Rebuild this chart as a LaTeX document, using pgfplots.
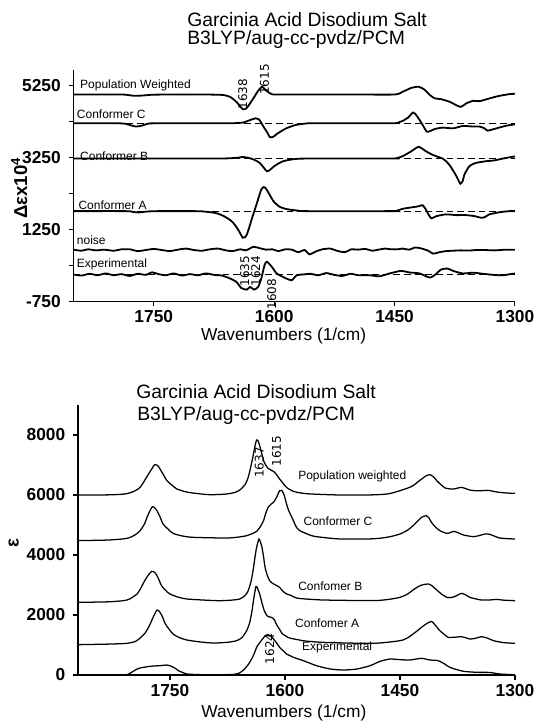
\documentclass[border=0pt]{standalone}
\usepackage{fontspec}
\setmainfont{Liberation Sans}
\newfontfamily\annfont{DejaVu Sans}
\usepackage{pgfplots}
\pgfplotsset{compat=1.18}
\pgfplotsset{
  base/.style={
    scale only axis,
    x dir=reverse,
    xmin=1300,
    axis x line=bottom, axis y line=left,
    axis line style={-, line width=0.8pt, black},
    tick align=outside, major tick length=3.5pt,
    every tick/.style={line width=0.8pt, black},
    tick label style={font=\fontsize{13}{15}\selectfont\bfseries},
    yticklabel style={xshift=-2.5pt},
    /pgf/number format/assume math mode=true,
    xtick={1750,1600,1450,1300},
    xticklabels={1750,1600,1450,1300},
    label style={font=\fontsize{13}{15}\selectfont},
    clip=false,
  },
}
\tikzset{
  cv/.style={black, line width=1.35pt, smooth, tension=0.4},
  cvb/.style={black, line width=0.95pt, smooth, tension=0.4},
  dl/.style={black, line width=0.9pt, dash pattern=on 5pt off 3pt},
  lab/.style={anchor=west, font=\fontsize{9}{11}\selectfont, inner sep=0pt},
  ann/.style={rotate=90, font=\annfont\fontsize{9}{11}\selectfont, inner sep=0pt},
  ttl/.style={anchor=base west, inner sep=0pt, font=\fontsize{14.5}{16}\selectfont},
}
\begin{document}
\begin{tikzpicture}
\useasboundingbox (0,0) rectangle (402.75pt,544.5pt);
% ---------------- top panel ----------------
\begin{axis}[base, at={(55.125pt,318.375pt)}, anchor=south west,
  width=331.1pt, height=173.6pt, xmax=1850, ymin=-750, ymax=5680,
  ytick={-750,250,1250,2250,3250,4250,5250},
  yticklabels={-750,,1250,,3250,,5250},
  xlabel={Wavenumbers (1/cm)},
  ylabel={\fontsize{14}{16}\selectfont\bfseries Δεx10\textsuperscript{4}},
  xlabel style={at={(axis description cs:0.476,-0.148)}, anchor=center},
  ylabel style={at={(axis description cs:-0.123,0.49)}, anchor=center},
]
\addplot[dl] coordinates {(1850,4200) (1300,4200)};
\addplot[dl] coordinates {(1850,3220) (1300,3220)};
\addplot[dl] coordinates {(1850,1760) (1300,1760)};
\addplot[dl] coordinates {(1850,0) (1300,0)};
% Population weighted
\addplot[cv] coordinates {(1850,5000)(1800,5000)(1785,4995)(1775,4965)(1765,4970)(1750,4995)(1720,5000)(1690,5000)(1672,4995)(1663,4985)(1655,4935)(1647,4795)(1639,4590)(1634,4630)(1626,4890)(1620,5100)(1615,5215)(1610,5110)(1603,5010)(1593,5000)(1500,5000)(1450,5000)(1440,5075)(1429,5185)(1420,5215)(1413,5140)(1406,4985)(1400,4895)(1392,4870)(1381,4795)(1368,4655)(1361,4750)(1352,4825)(1344,4815)(1332,4890)(1321,4955)(1307,5010)(1300,5020)};
% Conformer C
\addplot[cv] coordinates {(1850,4200)(1795,4200)(1785,4185)(1778,4140)(1772,4110)(1765,4135)(1757,4190)(1745,4200)(1660,4200)(1645,4210)(1638,4225)(1630,4290)(1623,4340)(1619,4310)(1616,4210)(1612,4060)(1609,3960)(1605,3810)(1600,3840)(1597,3900)(1589,4010)(1585,4060)(1578,4120)(1572,4160)(1560,4195)(1550,4200)(1455,4200)(1445,4225)(1440,4265)(1433,4360)(1427,4500)(1423,4430)(1419,4300)(1415,4155)(1410,3970)(1406,3980)(1400,4040)(1390,4080)(1377,4060)(1365,4125)(1352,4110)(1344,4110)(1338,4060)(1334,3995)(1328,4030)(1323,4060)(1315,4110)(1307,4150)(1300,4170)};
% Conformer B
\addplot[cv] coordinates {(1850,3220)(1700,3220)(1660,3225)(1645,3245)(1639,3265)(1632,3240)(1625,3190)(1618,3100)(1613,2970)(1609,2865)(1605,2910)(1601,2990)(1595,3080)(1589,3145)(1580,3190)(1572,3210)(1560,3220)(1455,3220)(1448,3230)(1440,3285)(1429,3425)(1420,3545)(1411,3425)(1404,3340)(1398,3285)(1390,3220)(1386,3150)(1381,3025)(1374,2775)(1370,2600)(1368,2520)(1365,2600)(1363,2775)(1357,3005)(1350,3090)(1344,3120)(1335,3150)(1327,3165)(1315,3220)(1307,3255)(1300,3280)};
% Conformer A
\addplot[cv] coordinates {(1850,1760)(1785,1760)(1775,1735)(1768,1725)(1758,1750)(1745,1760)(1700,1760)(1690,1755)(1676,1720)(1670,1690)(1663,1625)(1658,1560)(1653,1480)(1649,1380)(1645,1250)(1641,1090)(1639,1020)(1636,1040)(1634,1110)(1631,1310)(1628,1530)(1625,1740)(1622,1945)(1619,2160)(1616,2360)(1613,2430)(1610,2380)(1607,2270)(1604,2150)(1601,2040)(1597,1950)(1593,1880)(1587,1830)(1580,1800)(1570,1775)(1560,1760)(1455,1760)(1448,1765)(1440,1825)(1427,1870)(1420,1895)(1415,1925)(1411,1805)(1407,1640)(1404,1560)(1398,1620)(1386,1670)(1373,1650)(1361,1650)(1350,1620)(1342,1575)(1337,1600)(1332,1670)(1319,1730)(1307,1760)(1300,1760)};
% noise
\addplot[cv] coordinates {(1850,690)(1840,660)(1832,700)(1822,670)(1812,690)(1800,660)(1790,700)(1780,700)(1770,650)(1760,680)(1750,710)(1740,680)(1730,650)(1720,690)(1710,720)(1700,680)(1690,660)(1680,700)(1670,720)(1660,670)(1652,650)(1642,700)(1635,670)(1626,770)(1618,730)(1610,690)(1602,700)(1595,650)(1586,700)(1578,690)(1570,620)(1562,680)(1556,560)(1548,640)(1540,700)(1530,720)(1522,660)(1512,620)(1504,700)(1496,690)(1486,710)(1478,660)(1470,690)(1462,720)(1454,700)(1446,700)(1440,720)(1432,690)(1424,750)(1416,720)(1408,660)(1402,580)(1394,620)(1386,650)(1378,660)(1368,670)(1358,665)(1348,680)(1338,680)(1325,670)(1315,685)(1300,690)};
% Experimental
\addplot[cv] coordinates {(1850,0)(1840,-30)(1830,20)(1820,-20)(1810,30)(1800,-20)(1790,10)(1780,-40)(1770,20)(1760,-10)(1752,60)(1744,10)(1735,-20)(1725,30)(1715,-30)(1705,10)(1695,-20)(1685,30)(1675,-10)(1665,-30)(1655,-110)(1647,-205)(1641,-375)(1634,-420)(1630,-345)(1625,-420)(1620,-345)(1616,-110)(1612,260)(1609,355)(1603,215)(1597,30)(1591,-45)(1585,-110)(1578,-160)(1572,-20)(1564,0)(1555,20)(1545,-20)(1535,40)(1525,-10)(1515,-40)(1505,20)(1495,-20)(1481,-20)(1469,-50)(1456,30)(1442,100)(1431,55)(1419,30)(1406,-85)(1398,20)(1392,140)(1384,165)(1377,100)(1365,30)(1352,50)(1340,20)(1327,-10)(1315,-20)(1300,30)};
\node[lab] at (axis cs:1842,5250) {Population Weighted};
\node[lab] at (axis cs:1846,4441) {Conformer C};
\node[lab] at (axis cs:1842,3297) {Conformer B};
\node[lab] at (axis cs:1844,1930) {Conformer A};
\node[lab] at (axis cs:1846,953) {noise};
\node[lab] at (axis cs:1846,292) {Experimental};
\node[ann] at (axis cs:1639,5013) {1638};
\node[ann] at (axis cs:1612,5420) {1615};
\node[ann] at (axis cs:1636.5,90) {1635};
\node[ann] at (axis cs:1623,90) {1624};
\node[ann] at (axis cs:1603,-550) {1608};
\end{axis}
% ---------------- bottom panel ----------------
\begin{axis}[base, at={(58.5pt,38.25pt)}, anchor=south west,
  width=327.75pt, height=202.5pt, xmax=1870, ymin=0, ymax=9000,
  ytick={0,2000,4000,6000,8000},
  yticklabels={0,2000,4000,6000,8000},
  xlabel={Wavenumbers (1/cm)},
  ylabel={\fontsize{14}{16}\selectfont\bfseries ε},
  xlabel style={at={(axis description cs:0.471,-0.14)}, anchor=center},
  ylabel style={at={(axis description cs:-0.147,0.49)}, anchor=center},
]
% Population weighted
\addplot[cvb] coordinates {(1870,6000)(1830,6005)(1810,6030)(1800,6090)(1789,6255)(1778,6700)(1773,6900)(1770,7010)(1766,6980)(1763,6866)(1758,6650)(1754,6477)(1747,6320)(1741,6200)(1730,6110)(1720,6066)(1698,6010)(1676,6033)(1665,6090)(1659,6166)(1652,6350)(1648,6588)(1645,6900)(1642,7255)(1639,7650)(1637,7833)(1635,7800)(1633,7644)(1630,7350)(1627,7088)(1622,6888)(1615,6788)(1611,6680)(1607,6533)(1598,6255)(1589,6122)(1580,6070)(1567,6035)(1528,6000)(1485,6005)(1465,6040)(1450,6144)(1440,6230)(1433,6311)(1425,6470)(1420,6566)(1416,6640)(1411,6677)(1406,6600)(1402,6477)(1396,6330)(1391,6233)(1385,6205)(1380,6200)(1375,6230)(1370,6255)(1365,6220)(1359,6166)(1350,6140)(1344,6144)(1337,6155)(1333,6150)(1326,6110)(1320,6088)(1310,6065)(1300,6055)};
% Conformer C
\addplot[cvb] coordinates {(1870,4480)(1830,4500)(1806,4555)(1795,4680)(1789,4810)(1783,5050)(1780,5255)(1776,5480)(1773,5611)(1770,5570)(1767,5477)(1763,5270)(1759,5033)(1752,4850)(1746,4722)(1735,4640)(1720,4589)(1676,4566)(1660,4600)(1650,4644)(1642,4720)(1637,4789)(1632,4950)(1628,5144)(1625,5400)(1622,5588)(1618,5700)(1615,5755)(1611,5922)(1607,6144)(1604,6150)(1601,5990)(1598,5700)(1595,5470)(1591,5255)(1585,4922)(1580,4800)(1576,4755)(1567,4660)(1559,4611)(1528,4533)(1485,4540)(1465,4600)(1450,4700)(1440,4830)(1433,4977)(1427,5130)(1422,5255)(1416,5311)(1412,5230)(1409,5088)(1404,4940)(1398,4810)(1389,4722)(1384,4750)(1380,4789)(1374,4740)(1367,4666)(1354,4611)(1345,4660)(1339,4700)(1333,4690)(1326,4620)(1320,4566)(1310,4545)(1300,4533)};
% Conformer B
\addplot[cvb] coordinates {(1870,2422)(1830,2440)(1806,2500)(1793,2700)(1788,2900)(1783,3144)(1778,3340)(1774,3455)(1770,3420)(1767,3311)(1764,3150)(1761,2977)(1755,2800)(1750,2700)(1740,2600)(1728,2533)(1700,2490)(1685,2477)(1670,2495)(1659,2533)(1652,2650)(1648,2811)(1644,3150)(1641,3588)(1639,3950)(1637,4255)(1634,4533)(1632,4430)(1630,4255)(1628,3950)(1626,3588)(1623,3320)(1620,3144)(1616,3050)(1613,3011)(1607,2922)(1603,2800)(1598,2700)(1593,2660)(1585,2566)(1576,2540)(1550,2500)(1485,2480)(1465,2520)(1450,2589)(1440,2700)(1433,2833)(1426,2950)(1420,3011)(1413,3033)(1408,2970)(1402,2833)(1396,2700)(1389,2589)(1384,2580)(1380,2600)(1375,2660)(1370,2722)(1365,2680)(1359,2590)(1350,2530)(1344,2500)(1333,2500)(1324,2520)(1315,2495)(1300,2477)};
% Conformer A
\addplot[cvb] coordinates {(1870,1011)(1830,1030)(1806,1055)(1795,1120)(1789,1233)(1783,1380)(1778,1588)(1775,1750)(1772,1922)(1769,2080)(1767,2166)(1765,2150)(1763,2088)(1760,1950)(1756,1700)(1751,1520)(1746,1366)(1738,1250)(1728,1166)(1710,1100)(1693,1066)(1675,1090)(1663,1144)(1656,1250)(1650,1477)(1646,1750)(1643,2144)(1641,2500)(1638,2944)(1636,2900)(1633,2700)(1630,2400)(1627,2144)(1624,2000)(1622,1944)(1619,1930)(1616,1900)(1613,1800)(1611,1677)(1607,1520)(1604,1388)(1599,1300)(1594,1233)(1580,1160)(1576,1140)(1550,1088)(1485,1055)(1450,1144)(1440,1240)(1433,1366)(1427,1480)(1422,1588)(1416,1700)(1409,1788)(1404,1660)(1398,1477)(1392,1350)(1387,1255)(1378,1260)(1370,1277)(1365,1250)(1359,1200)(1352,1220)(1344,1277)(1336,1230)(1328,1144)(1315,1080)(1300,1055)};
% Experimental
\addplot[cvb] coordinates {(1870,0)(1810,0)(1806,10)(1800,90)(1795,170)(1789,233)(1776,290)(1763,311)(1754,333)(1748,290)(1743,220)(1739,144)(1733,80)(1728,33)(1715,15)(1698,5)(1680,10)(1667,20)(1660,60)(1654,166)(1650,280)(1646,422)(1641,660)(1637,922)(1634,1040)(1631,1144)(1628,1240)(1626,1311)(1622,1344)(1618,1290)(1615,1200)(1611,1070)(1607,922)(1602,800)(1598,700)(1593,640)(1589,589)(1576,478)(1559,311)(1541,200)(1524,166)(1506,200)(1489,311)(1476,455)(1463,533)(1450,511)(1437,500)(1422,555)(1411,500)(1400,478)(1392,370)(1385,255)(1376,180)(1367,122)(1350,89)(1333,85)(1320,33)(1302,11)(1300,10)};
\node[lab] at (axis cs:1583,6610) {Population weighted};
\node[lab] at (axis cs:1576,5122) {Conformer C};
\node[lab] at (axis cs:1583,2955) {Confomer B};
\node[lab] at (axis cs:1587,1733) {Confomer A};
\node[lab] at (axis cs:1578,922) {Experimental};
\node[ann] at (axis cs:1633.5,7088) {1637};
\node[ann] at (axis cs:1611,7455) {1615};
\node[ann] at (axis cs:1620,867) {1624};
\end{axis}
% titles
\node[ttl] at (140.25pt,524.25pt) {Garcinia Acid Disodium Salt};
\node[ttl] at (140.25pt,511pt) {B3LYP/aug-cc-pvdz/PCM};
\node[ttl] at (102pt,245.6pt) {Garcinia Acid Disodium Salt};
\node[ttl] at (102.75pt,229.1pt) {B3LYP/aug-cc-pvdz/PCM};
\end{tikzpicture}
\end{document}
